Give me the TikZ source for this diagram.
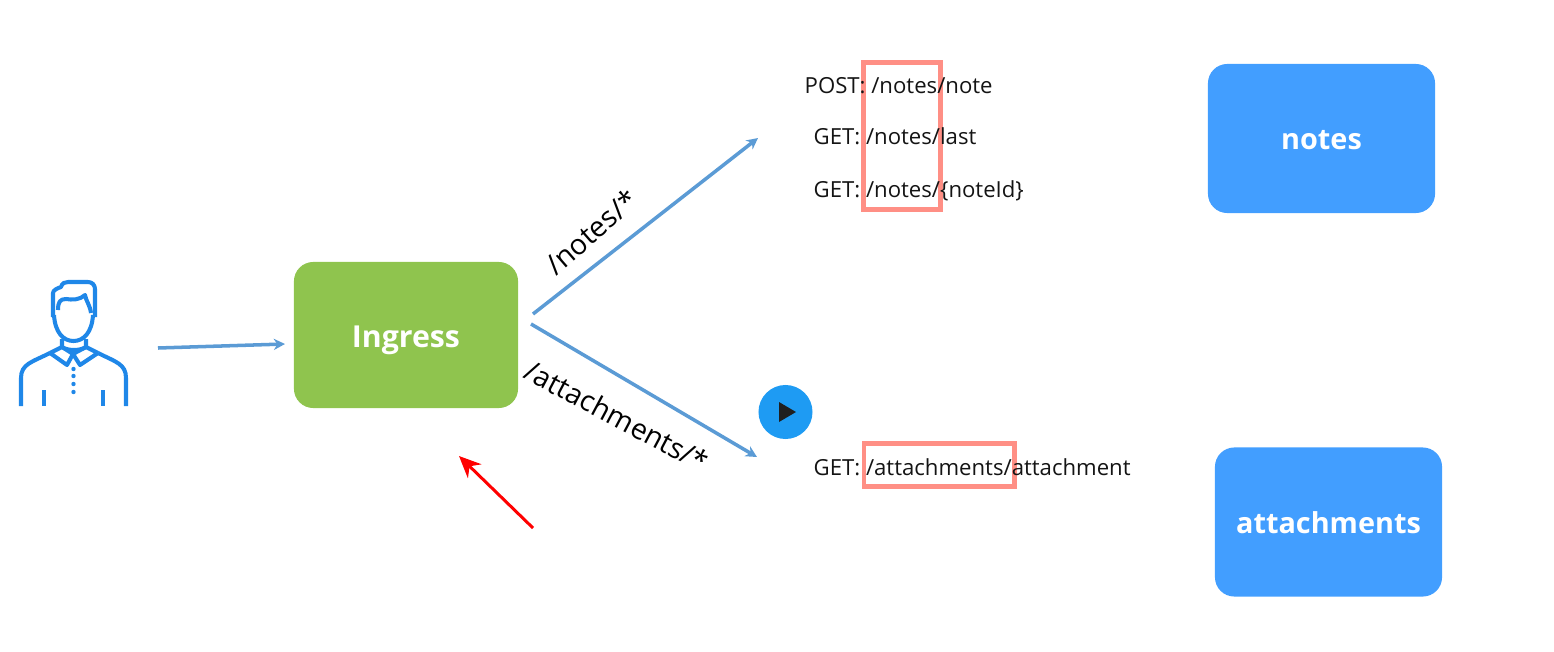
\documentclass[tikz,border=0pt]{standalone}
\usepackage{fontspec}
\setmainfont{Open Sans}
\usetikzlibrary{arrows.meta}
\definecolor{linkblue}{HTML}{5B9BD5}
\definecolor{leafgreen}{HTML}{8FC44E}
\definecolor{svcblue}{HTML}{429EFF}
\definecolor{markred}{HTML}{FF8F85}
\definecolor{playblue}{HTML}{1E9BF3}
\definecolor{userblue}{HTML}{1F87E8}
\tikzset{
  linkarrow/.style={draw=linkblue, line width=1pt, -{Stealth[length=3.2pt,width=3.2pt]}},
  box/.style={rounded corners=5.5pt, text=white, font=\bfseries\fontsize{8.2}{10}\selectfont, minimum width=2.27cm, minimum height=1.49cm, inner sep=0pt, text height=6.4pt, text depth=0pt},
  pathtext/.style={anchor=west, inner sep=0pt, text=black!92, font=\fontsize{6.3}{8}\selectfont},
  arrowtext/.style={inner sep=0pt, text=black, font=\fontsize{8.1}{10}\selectfont},
  markbox/.style={draw=markred, line width=1.4pt},
  userline/.style={draw=userblue, line width=1.15pt, line join=round}
}
\begin{document}
\begin{tikzpicture}[x=0.01cm,y=-0.01cm]
 \useasboundingbox (0,0) rectangle (1554,651);

 % user icon
 \draw[userline] (53,317) -- (53,293) .. controls (53,290) and (58,288) .. (61,287) .. controls (62,283) and (65,282) .. (68,282) -- (88,282) .. controls (92,282) and (95,285) .. (95,289) -- (95,317);
 \draw[userline] (58,310) .. controls (58,302) and (60,299) .. (66,299) .. controls (72,300) and (80,300) .. (85,295) .. controls (86,301) and (90,305) .. (91,313);
 \draw[userline] (54,315) .. controls (55,332) and (63,341) .. (73.5,341) .. controls (84,341) and (92,332) .. (93,315);
 \draw[userline] (62,339) -- (62,347) .. controls (68,351) and (80,351) .. (86,347) -- (86,339);
 \draw[userline] (50,353) -- (62,347) -- (73,354) -- (67,365) -- (50,353);
 \draw[userline] (98,353) -- (86,347) -- (73,354) -- (80,365) -- (98,353);
 \draw[userline] (21,406) -- (21,378) .. controls (21,364) and (32,362) .. (50,353);
 \draw[userline] (126,406) -- (126,378) .. controls (126,364) and (116,362) .. (98,353);
 \draw[userline] (44,390) -- (44,406);
 \draw[userline] (103,390) -- (103,406);
 \foreach \y in {369,376,384,392} {
  \fill[userblue] (73.5,\y) circle (2.2);
 }

 \node[box, fill=leafgreen, minimum width=2.24cm, minimum height=1.46cm, text height=7.2pt, font=\bfseries\fontsize{8.6}{10}\selectfont] (ingress) at (406,335) {Ingress};
 \node[box, fill=svcblue] (notes) at (1321.5,138.5) {notes};
 \node[box, fill=svcblue] (attachments) at (1328.5,522) {attachments};

 \coordinate (userout) at (158,348);
 \coordinate (ingressin) at (285,344);
 \coordinate (notesout) at (533,314);
 \coordinate (notesin) at (758,138);
 \coordinate (attachout) at (531,324);
 \coordinate (attachin) at (757,457);
 \draw[linkarrow] (userout) -- (ingressin);
 \draw[linkarrow] (notesout) -- (notesin);
 \draw[linkarrow] (attachout) -- (attachin);

 \node[arrowtext, rotate=41] (noteslabel) at (591,232) {/notes/*};
 \node[arrowtext, rotate=-28] (attachlabel) at (617,416) {/attachments/*};

 \node[markbox, minimum width=0.77cm, minimum height=1.46cm, inner sep=0pt] (notesmark) at (902,136) {};
 \node[markbox, minimum width=1.5cm, minimum height=0.43cm, inner sep=0pt] (attachmark) at (939,465) {};

 \node[pathtext] (postnote) at (804,85.5) {POST: /notes/note};
 \node[pathtext] (getlast) at (813,136.5) {GET: /notes/last};
 \node[pathtext] (getid) at (813,191) {GET: /notes/\{noteId\}};
 \node[pathtext] (getattach) at (813,467) {GET: /attachments/attachment};

 \node[circle, fill=playblue, minimum size=0.54cm, inner sep=0pt] (play) at (785.5,412) {};
 \fill[black!88] (779,402) -- (796,412) -- (779,422) -- cycle;

 \coordinate (redstart) at (533,528);
 \coordinate (redend) at (459,456);
 \draw[red, line width=0.85pt, -{Stealth[length=6.2pt,width=5.5pt]}] (redstart) -- (redend);
\end{tikzpicture}
\end{document}
